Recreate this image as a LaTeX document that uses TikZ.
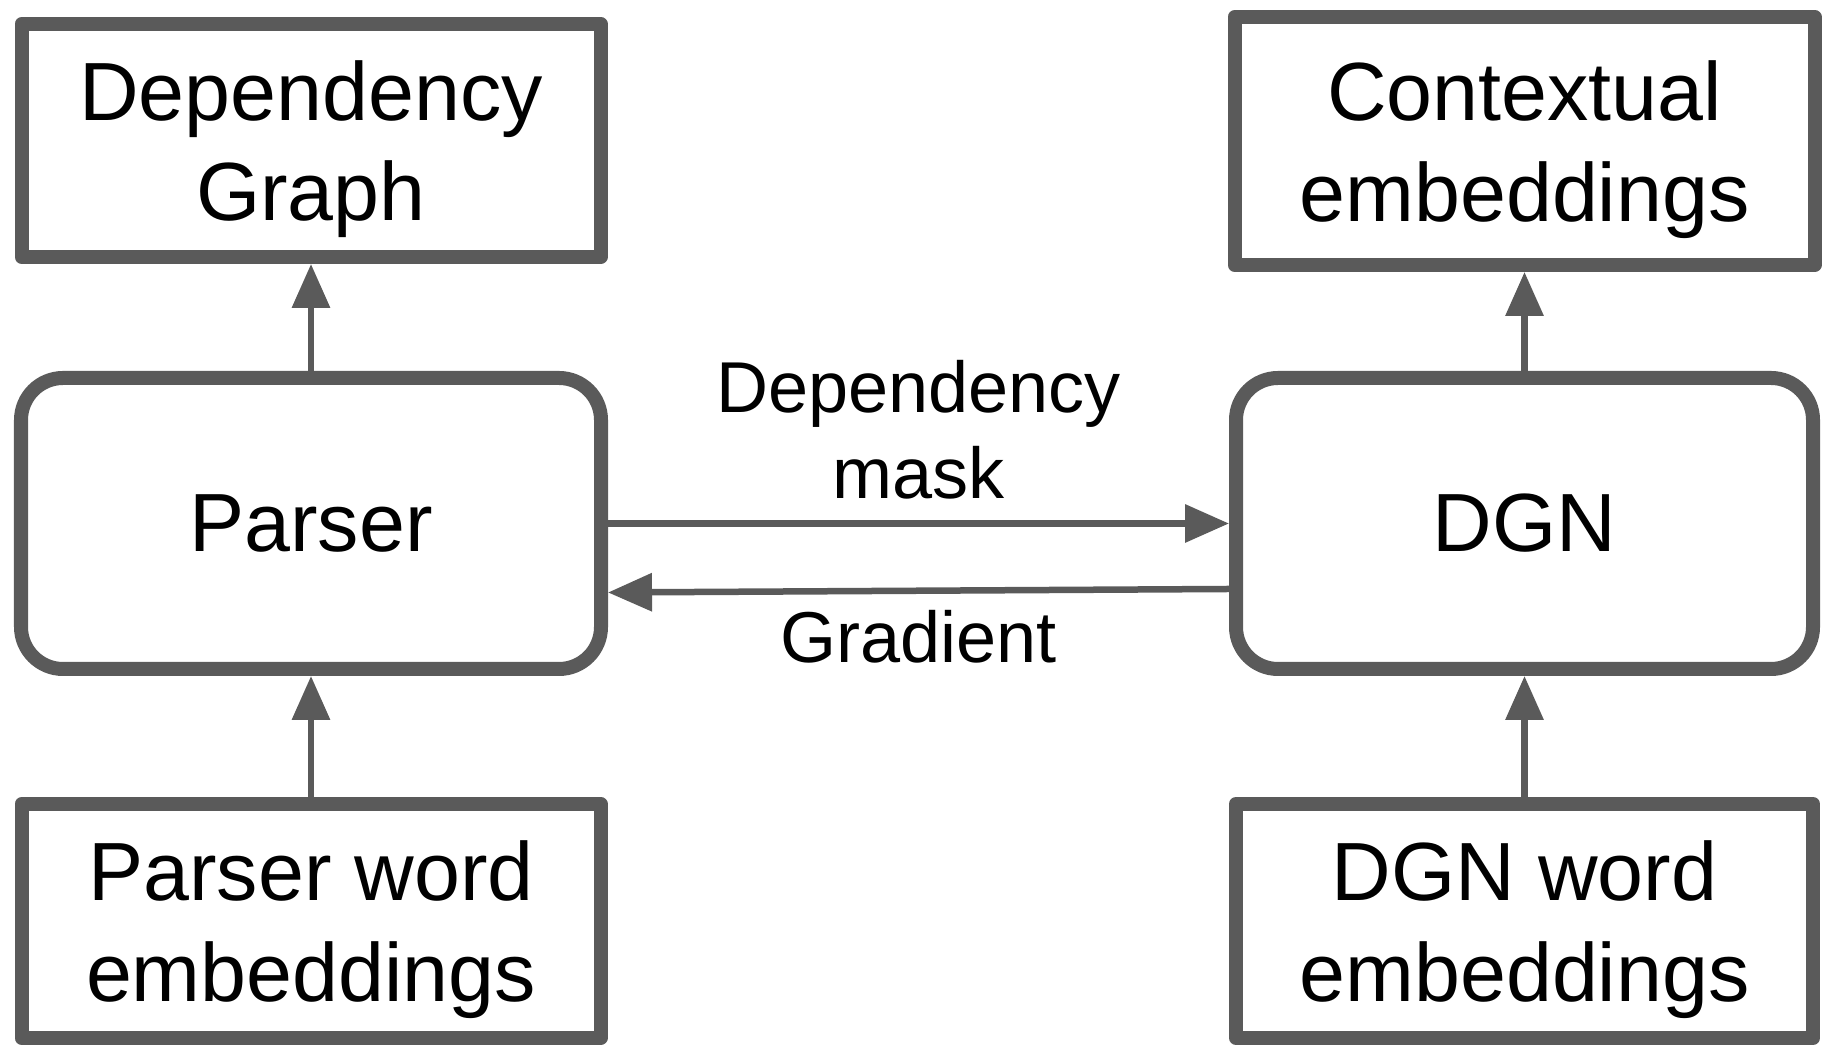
\documentclass[tikz,border=0pt]{standalone}
\usepackage{fontspec}
\setmainfont{Liberation Sans}
\usepackage{xcolor}
\usepackage{tikz}
\usetikzlibrary{arrows.meta,positioning}

\definecolor{linegray}{HTML}{5A5A5A}

\begin{document}
\begin{tikzpicture}[
    node distance=1.1cm and 6.2cm,
    boxbase/.style={rectangle, draw=linegray, line width=0.14cm, line join=round, fill=white, minimum width=5.79cm, align=center, inner sep=0pt, font=\fontsize{23.5}{28.6}\selectfont},
    block/.style={boxbase, minimum height=2.33cm, text depth=0pt},
    rblock/.style={boxbase, rounded corners=0.42cm, minimum height=2.91cm},
    lbl/.style={align=center, inner sep=0pt, font=\fontsize{20.5}{24.5}\selectfont},
    arrow/.style={->, >={Triangle[length=0.44cm, width=0.37cm]}, draw=linegray, fill=linegray, line width=0.065cm},
]
    \useasboundingbox (0,0) rectangle (18.36,10.6);

    \node[rblock, minimum width=5.80cm] (parser) at (3.11,5.365) {Parser};
    \node[rblock, minimum width=5.77cm, right=6.21cm of parser] (dgn) {DGN};
    \node[block, above=1.07cm of parser] (depgraph) {Dependency\\Graph};
    \node[block, minimum width=5.80cm, minimum height=2.48cm, above=0.99cm of dgn] (context) {Contextual\\embeddings};
    \node[block, minimum height=2.34cm, below=1.21cm of parser] (pword) {Parser word\\embeddings};
    \node[block, minimum width=5.77cm, minimum height=2.34cm, below=1.21cm of dgn] (dword) {DGN word\\embeddings};

    \draw[arrow] (parser) -- (depgraph);
    \draw[arrow] (pword) -- (parser);
    \draw[arrow] (dgn) -- (context);
    \draw[arrow] (dword) -- (dgn);

    \draw[arrow] (parser.east) -- node[lbl, midway, above=0.21cm] (masklbl) {Dependency\\mask} (dgn.west);
    \draw[arrow] ([yshift=-0.655cm]dgn.west) -- node[lbl, midway, below=0.165cm] (gradlbl) {Gradient} ([yshift=-0.69cm]parser.east);
\end{tikzpicture}
\end{document}
